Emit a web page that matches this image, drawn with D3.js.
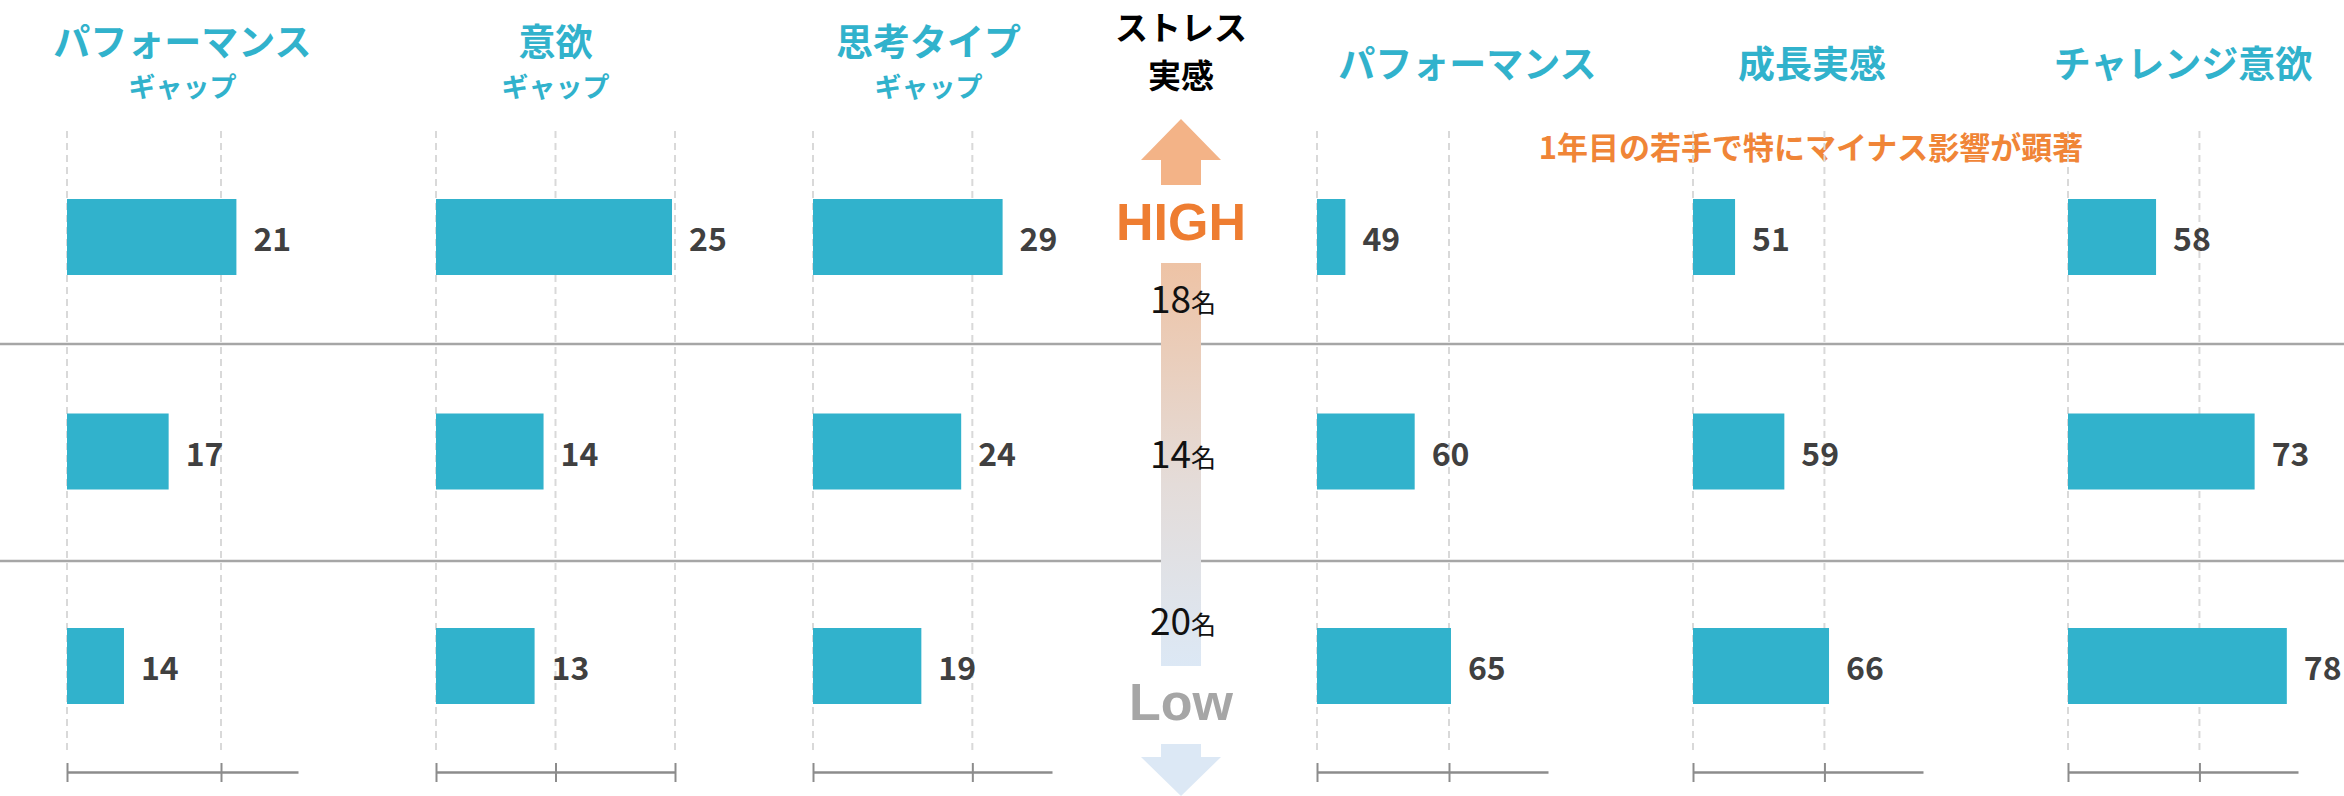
<!DOCTYPE html>
<html><head><meta charset="utf-8">
<script src="https://cdn.jsdelivr.net/npm/d3@7"></script>
<style>
html,body{margin:0;padding:0;background:#fff;}
svg{display:block;}
</style></head>
<body>
<svg id="chart" width="2344" height="796"></svg>
<script>
// ---------- data ----------
const rows = ["high", "mid", "low"];
const panelTitles = ["パフォーマンス", "意欲", "思考タイプ", "パフォーマンス", "成長実感", "チャレンジ意欲"];
const panelSubtitles = ["ギャップ", "ギャップ", "ギャップ", "", "", ""];
const performanceGap = [21.0, 16.6, 13.7];
const motivationGap = [24.75, 14.0, 13.25];
const thinkingGap = [28.8, 23.6, 18.6];
const performance = [49.3, 59.8, 65.3];
const growth = [51.4, 58.9, 65.7];
const challenge = [58.4, 73.4, 78.3];
const domains = [[10, 25], [5, 25], [5, 35], [45, 80], [45, 80], [45, 80]];
const tickValues = [[10, 20], [5, 15, 25], [5, 25], [45, 65], [45, 65], [45, 65]];
const groupCounts = [18, 14, 20];
const countUnit = "名";
const stressTitle = ["ストレス", "実感"];
const stressLevels = ["HIGH", "Low"];
const annotation = "1年目の若手で特にマイナス影響が顕著";

const seriesList = [performanceGap, motivationGap, thinkingGap, performance, growth, challenge];

// ---------- layout ----------
const panelRanges = [[67, 298], [436, 675], [813, 1052], [1317, 1548], [1693, 1923], [2068, 2298]];
const titleOffsets = [0, 0, -4, 35, 4, 0];
const TEAL = "#31b2cc";
const ORANGE = "#ee7d31";
const CJK = "'Noto Sans CJK JP','Noto Sans',sans-serif";
const LATIN = "'Liberation Sans',Arial,sans-serif";

const svg = d3.select("#chart");

const y = d3.scalePoint().domain(rows).range([237, 666]);
const barH = 76;
const gridTop = 131, gridBottom = 753, axisY = 772;

// separators
const sepY = [344, 561];
svg.selectAll("line.sep").data(sepY).join("line")
  .attr("class", "sep")
  .attr("x1", 0).attr("x2", 2344)
  .attr("y1", d => d).attr("y2", d => d)
  .attr("stroke", "#a6a6a6").attr("stroke-width", 2.5);

// center column: gradient bar and arrows
const defs = svg.append("defs");
const grad = defs.append("linearGradient").attr("id", "stressGrad")
  .attr("x1", 0).attr("y1", 0).attr("x2", 0).attr("y2", 1);
grad.append("stop").attr("offset", "0%").attr("stop-color", "#eec3a5");
grad.append("stop").attr("offset", "55%").attr("stop-color", "#e4dcd9");
grad.append("stop").attr("offset", "100%").attr("stop-color", "#dce8f5");

const cx = 1181;
svg.append("rect").attr("x", cx - 20).attr("y", 263).attr("width", 40).attr("height", 403)
  .attr("fill", "url(#stressGrad)");

// up arrow
svg.append("path")
  .attr("d", `M${cx},119 L${cx + 40},160 L${cx + 20},160 L${cx + 20},185 L${cx - 20},185 L${cx - 20},160 L${cx - 40},160 Z`)
  .attr("fill", "#f3b387");
// down arrow
svg.append("path")
  .attr("d", `M${cx - 20},744 L${cx + 20},744 L${cx + 20},757 L${cx + 40},757 L${cx},796 L${cx - 40},757 L${cx - 20},757 Z`)
  .attr("fill", "#dce8f5");

svg.append("text").attr("x", cx).attr("y", 240).attr("text-anchor", "middle")
  .attr("font-family", LATIN).attr("font-weight", "bold").attr("font-size", 52)
  .attr("fill", ORANGE).text(stressLevels[0]);
svg.append("text").attr("x", cx).attr("y", 720).attr("text-anchor", "middle")
  .attr("font-family", LATIN).attr("font-weight", "bold").attr("font-size", 52)
  .attr("fill", "#a6a6a6").text(stressLevels[1]);

svg.selectAll("text.stressTitle").data(stressTitle).join("text")
  .attr("class", "stressTitle")
  .attr("x", cx).attr("y", (d, i) => i === 0 ? 26 : 74)
  .attr("text-anchor", "middle").attr("dominant-baseline", "central")
  .attr("font-family", CJK).attr("font-weight", "bold").attr("font-size", 33)
  .attr("fill", "#000").text(d => d);

const countY = [297, 452, 619];
const countT = svg.selectAll("text.count").data(groupCounts).join("text")
  .attr("class", "count")
  .attr("x", cx + 2).attr("y", (d, i) => countY[i])
  .attr("text-anchor", "middle").attr("dominant-baseline", "central")
  .attr("font-family", CJK).attr("fill", "#111");
countT.append("tspan").attr("font-size", 37).text(d => d);
countT.append("tspan").attr("font-size", 25).attr("dy", 4).text(countUnit);

// annotation
svg.append("text").attr("x", 1811).attr("y", 145)
  .attr("text-anchor", "middle").attr("dominant-baseline", "central")
  .attr("font-family", CJK).attr("font-weight", "bold").attr("font-size", 31)
  .attr("fill", "#f08537").text(annotation);

// panels
const fmt = d3.format(".0f");
seriesList.forEach((values, p) => {
  const x = d3.scaleLinear().domain(domains[p]).range(panelRanges[p]);
  const g = svg.append("g");
  const center = (panelRanges[p][0] + panelRanges[p][1]) / 2 + titleOffsets[p];
  const hasSub = panelSubtitles[p] !== "";

  g.append("text").attr("x", center).attr("y", hasSub ? 40 : 62)
    .attr("text-anchor", "middle").attr("dominant-baseline", "central")
    .attr("font-family", CJK).attr("font-weight", "bold").attr("font-size", 37)
    .attr("fill", TEAL).text(panelTitles[p]);
  if (hasSub) {
    g.append("text").attr("x", center).attr("y", 85)
      .attr("text-anchor", "middle").attr("dominant-baseline", "central")
      .attr("font-family", CJK).attr("font-weight", "bold").attr("font-size", 27)
      .attr("fill", TEAL).text(panelSubtitles[p]);
  }

  // gridlines
  g.selectAll("line.grid").data(tickValues[p]).join("line")
    .attr("class", "grid")
    .attr("x1", d => x(d)).attr("x2", d => x(d))
    .attr("y1", gridTop).attr("y2", gridBottom)
    .attr("stroke", "#d9d9d9").attr("stroke-width", 2).attr("stroke-dasharray", "7,5");

  // bars
  g.selectAll("rect.bar").data(values).join("rect")
    .attr("class", "bar")
    .attr("x", x(domains[p][0]))
    .attr("y", (d, i) => y(rows[i]) - barH / 2)
    .attr("width", d => x(d) - x(domains[p][0]))
    .attr("height", barH)
    .attr("fill", TEAL);

  g.selectAll("text.val").data(values).join("text")
    .attr("class", "val")
    .attr("x", d => x(d) + 17)
    .attr("y", (d, i) => y(rows[i]))
    .attr("dominant-baseline", "central")
    .attr("font-family", CJK).attr("font-weight", "bold").attr("font-size", 32)
    .attr("fill", "#404040").text(d => fmt(d));

  // axis
  const axis = d3.axisBottom(x).tickValues(tickValues[p]).tickSizeOuter(0).tickSizeInner(0).tickFormat("");
  const ag = g.append("g").attr("transform", `translate(0,${axisY})`).call(axis);
  ag.select(".domain").attr("stroke", "#8c8c8c").attr("stroke-width", 2.5);
  ag.selectAll(".tick line").attr("y1", -9).attr("y2", 10)
    .attr("stroke", "#8c8c8c").attr("stroke-width", 2);
});
</script>
</body></html>
